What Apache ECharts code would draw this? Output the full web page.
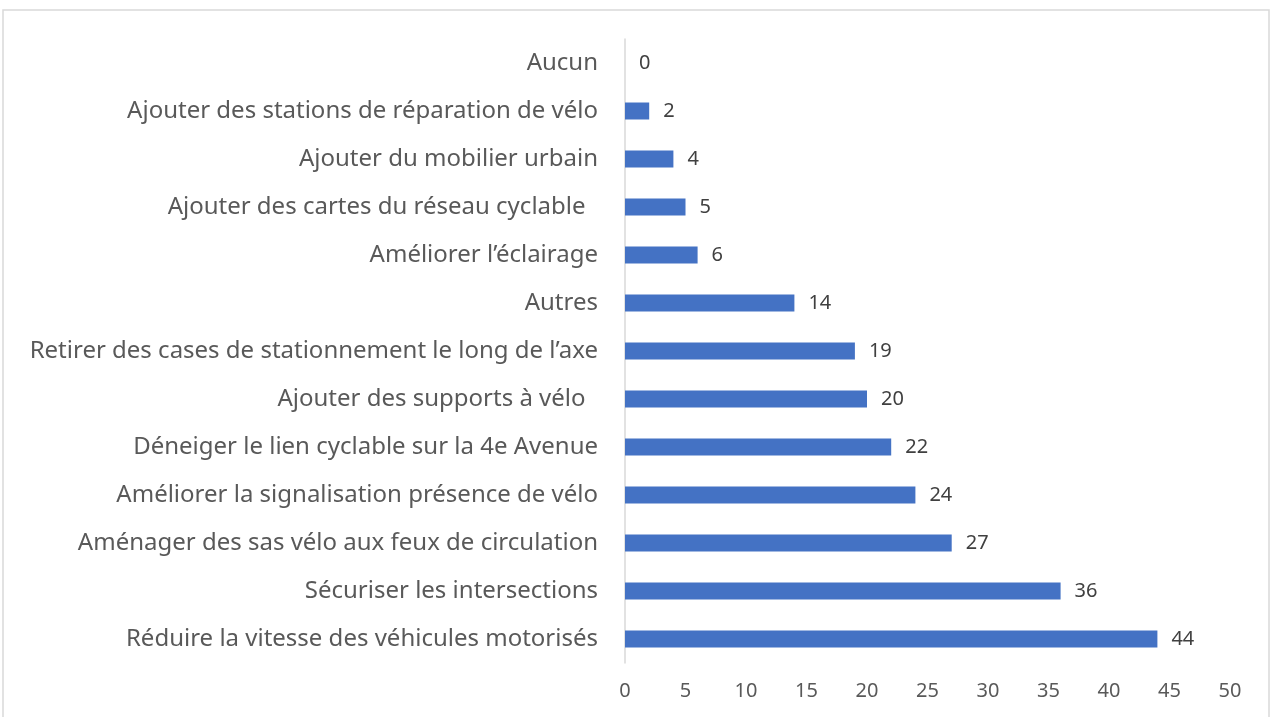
<!DOCTYPE html>
<html>
<head>
<meta charset="utf-8">
<script src="https://cdn.jsdelivr.net/npm/echarts@6/dist/echarts.min.js"></script>
<style>
  html, body { margin: 0; padding: 0; background: #fff; }
  #chart { width: 1272px; height: 717px; }
</style>
</head>
<body>
<div id="chart"></div>
<script>
// categories, bottom to top
const categories = [
  'Réduire la vitesse des véhicules motorisés',
  'Sécuriser les intersections',
  'Aménager des sas vélo aux feux de circulation',
  'Améliorer la signalisation présence de vélo',
  'Déneiger le lien cyclable sur la 4e Avenue',
  'Ajouter des supports à vélo  ',
  'Retirer des cases de stationnement le long de l’axe',
  'Autres',
  'Améliorer l’éclairage',
  'Ajouter des cartes du réseau cyclable  ',
  'Ajouter du mobilier urbain',
  'Ajouter des stations de réparation de vélo',
  'Aucun'
]
const values = [44, 36, 27, 24, 22, 20, 19, 14, 6, 5, 4, 2, 0]

const font = 'Noto Sans'
const textColor = '#595959'

let chart = echarts.init(document.getElementById('chart'))
chart.setOption({
  animation: false,
  backgroundColor: '#fff',
  graphic: [{
    type: 'rect',
    shape: { x: 3, y: 10, width: 1266, height: 720 },
    style: { fill: 'none', stroke: '#d9d9d9', lineWidth: 1.5 },
    silent: true
  }],
  grid: {
    left: 625,
    right: 42,
    top: 39,
    bottom: 54
  },
  xAxis: {
    type: 'value',
    min: 0,
    max: 50,
    interval: 5,
    axisLine: { show: false },
    axisTick: { show: false },
    splitLine: { show: false },
    axisLabel: {
      color: textColor,
      fontFamily: font,
      fontSize: 20,
      margin: 18
    }
  },
  yAxis: {
    type: 'category',
    data: categories,
    axisLine: { show: true, lineStyle: { color: '#d9d9d9', width: 1.5 } },
    axisTick: { show: false },
    axisLabel: {
      color: textColor,
      fontFamily: font,
      fontSize: 24,
      margin: 27
    }
  },
  series: [{
    type: 'bar',
    data: values,
    barWidth: 17,
    itemStyle: { color: '#4472C4' },
    label: {
      show: true,
      position: 'right',
      distance: 14,
      color: '#404040',
      fontFamily: font,
      fontSize: 20
    }
  }]
})
</script>
</body>
</html>
